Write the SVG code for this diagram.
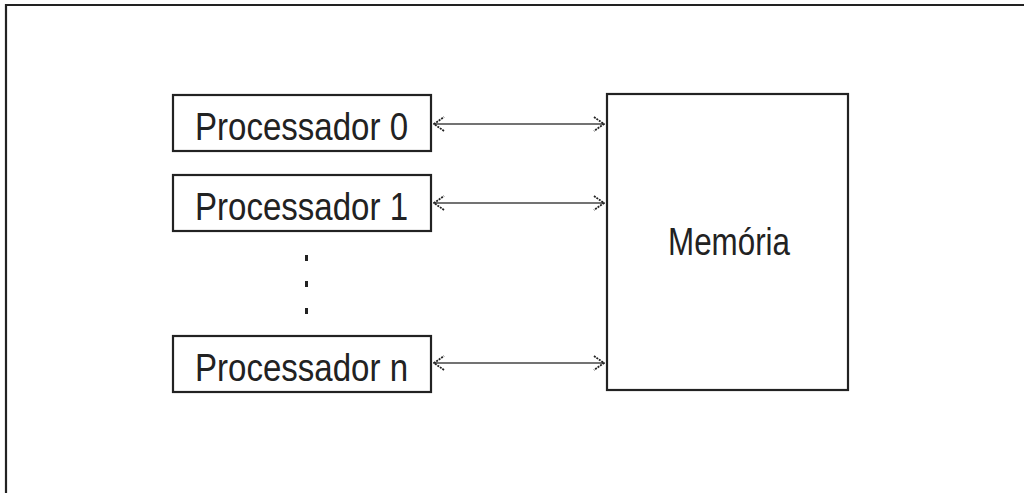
<svg xmlns="http://www.w3.org/2000/svg" width="1024" height="493" viewBox="0 0 1024 493">
<defs>
<style>
.box{fill:#fff;stroke:#222;stroke-width:2.2}
.lbl{font-family:"Liberation Sans Narrow","Liberation Sans",sans-serif;font-size:38px;fill:#222}
.conn{stroke:#444;stroke-width:1.5;fill:none}
</style>
<marker id="ah" viewBox="0 0 12 16" refX="11" refY="8" markerWidth="12" markerHeight="16" markerUnits="userSpaceOnUse" orient="auto-start-reverse">
<path d="M1,1 L11,8 L1,15" fill="none" stroke="#222" stroke-width="1.8" stroke-dasharray="2 1"/>
</marker>
</defs>
<rect width="1024" height="493" fill="#fff"/>
<path d="M6,493 V5 H1024" fill="none" stroke="#222" stroke-width="2.2"/>
<g id="p0">
<rect class="box" x="173" y="95" width="258" height="56"/>
<text class="lbl" x="195" y="140" textLength="213" lengthAdjust="spacingAndGlyphs">Processador  0</text>
</g>
<g id="p1">
<rect class="box" x="173" y="175" width="258" height="56"/>
<text class="lbl" x="195" y="220" textLength="213" lengthAdjust="spacingAndGlyphs">Processador  1</text>
</g>
<g id="ellipsis">
<rect x="305" y="255" width="3" height="6" fill="#222"/>
<rect x="305" y="281" width="3" height="6" fill="#222"/>
<rect x="305" y="308" width="3" height="6" fill="#222"/>
</g>
<g id="pn">
<rect class="box" x="173" y="336" width="258" height="56"/>
<text class="lbl" x="195" y="381" textLength="213" lengthAdjust="spacingAndGlyphs">Processador  n</text>
</g>
<g id="mem">
<rect class="box" x="607" y="94" width="241" height="296"/>
<text class="lbl" x="668" y="255" textLength="122" lengthAdjust="spacingAndGlyphs">Memória</text>
</g>
<g id="connectors">
<path class="conn" d="M434,124 H604" marker-start="url(#ah)" marker-end="url(#ah)"/>
<path class="conn" d="M434,203 H604" marker-start="url(#ah)" marker-end="url(#ah)"/>
<path class="conn" d="M434,363 H604" marker-start="url(#ah)" marker-end="url(#ah)"/>
</g>
</svg>
